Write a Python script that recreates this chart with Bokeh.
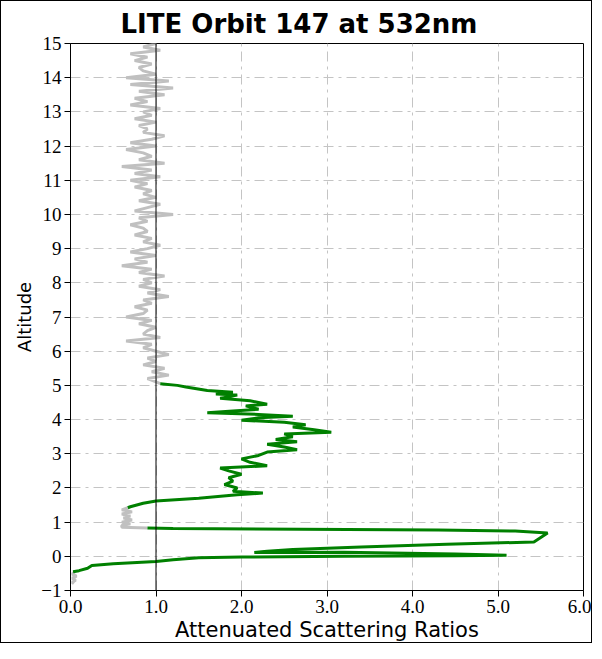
from bokeh.plotting import figure
from bokeh.models import Span, FixedTicker, Range1d
from bokeh.embed import file_html
from bokeh.resources import INLINE

title_text = "LITE Orbit 147 at 532nm"
x_label = "Attenuated Scattering Ratios"
y_label = "Altitude"
x_ticks = [0, 1, 2, 3, 4, 5, 6]
x_tick_labels = ["0.0", "1.0", "2.0", "3.0", "4.0", "5.0", "6.0"]
y_ticks = [-1, 0, 1, 2, 3, 4, 5, 6, 7, 8, 9, 10, 11, 12, 13, 14, 15]

# grey profile, upper part (altitude km, ratio)
gray_upper_alt = [15.0, 14.9, 14.8, 14.7, 14.6, 14.5, 14.4, 14.3, 14.2, 14.1,
                  14.0, 13.9, 13.8, 13.7, 13.6, 13.5, 13.4, 13.3, 13.2, 13.1,
                  13.0, 12.9, 12.8, 12.7, 12.6, 12.5, 12.4, 12.3, 12.2, 12.1,
                  12.0, 11.9, 11.8, 11.7, 11.6, 11.5, 11.4, 11.3, 11.2, 11.1,
                  11.0, 10.9, 10.8, 10.7, 10.6, 10.5, 10.4, 10.3, 10.2, 10.1,
                  10.0, 9.9, 9.8, 9.7, 9.6, 9.5, 9.4, 9.3, 9.2, 9.1,
                  9.0, 8.9, 8.8, 8.7, 8.6, 8.5, 8.4, 8.3, 8.2, 8.1,
                  8.0, 7.9, 7.8, 7.7, 7.6, 7.5, 7.4, 7.3, 7.2, 7.1,
                  7.0, 6.9, 6.8, 6.7, 6.6, 6.5, 6.4, 6.3, 6.2, 6.1,
                  6.0, 5.9, 5.8, 5.7, 5.6, 5.5, 5.4, 5.3, 5.2, 5.1, 5.05]
gray_upper_val = [1.0, 0.85, 1.05, 0.7, 0.9, 0.75, 0.95, 0.8, 0.85, 1.0,
                  0.65, 1.15, 0.7, 1.2, 0.8, 1.1, 0.75, 0.9, 0.7, 1.05,
                  0.85, 0.95, 0.75, 1.0, 0.8, 0.9, 0.85, 1.1, 0.95, 0.7,
                  1.0, 0.65, 0.85, 0.95, 0.8, 1.1, 0.6, 0.95, 0.75, 1.05,
                  0.7, 0.9, 0.75, 0.95, 0.85, 1.0, 0.8, 1.05, 0.9, 0.75,
                  1.2, 0.8, 0.9, 0.7, 0.85, 0.9, 0.75, 0.95, 0.85, 1.05,
                  0.9, 0.7, 1.0, 0.75, 0.9, 0.6, 0.95, 0.8, 1.1, 0.85,
                  0.95, 0.8, 1.05, 0.9, 1.15, 0.85, 0.95, 0.75, 0.9, 0.85,
                  0.65, 0.95, 0.8, 1.0, 0.9, 0.85, 1.05, 0.65, 0.95, 0.85,
                  1.0, 1.15, 0.9, 1.0, 0.85, 1.1, 0.95, 1.15, 0.9, 1.0, 1.05]

# grey profile, middle part
gray_mid_alt = [1.42, 1.36, 1.3, 1.24, 1.18, 1.12, 1.06, 1.0, 0.95, 0.9, 0.85, 0.83]
gray_mid_val = [0.67, 0.6, 0.72, 0.6, 0.7, 0.62, 0.72, 0.6, 0.7, 0.6, 0.6, 0.9]

# grey profile, bottom part
gray_low_alt = [-0.45, -0.52, -0.58, -0.64, -0.7, -0.76, -0.8]
gray_low_val = [0.05, 0.02, 0.07, 0.02, 0.06, 0.02, 0.04]

# green profile, aerosol layer
green_upper_alt = [5.05, 5.0, 4.95, 4.85, 4.8, 4.75, 4.72, 4.62, 4.55, 4.45,
                   4.4, 4.3, 4.25, 4.2, 4.15, 4.1, 4.05, 3.98, 3.92, 3.85,
                   3.78, 3.7, 3.63, 3.58, 3.5, 3.42, 3.35, 3.28, 3.2, 3.12,
                   3.05, 2.95, 2.85, 2.75, 2.65, 2.58, 2.5, 2.4, 2.3, 2.2,
                   2.1, 2.0, 1.9, 1.85, 1.8, 1.7, 1.62, 1.55, 1.45, 1.42]
green_upper_val = [1.05, 1.25, 1.35, 1.6, 1.9, 1.7, 1.95, 1.75, 2.1, 2.3,
                   2.05, 2.2, 1.9, 1.6, 2.2, 2.6, 2.2, 2.0, 2.5, 2.75,
                   2.6, 2.85, 3.05, 2.5, 2.6, 2.4, 2.65, 2.3, 2.5, 2.65,
                   2.3, 2.2, 2.0, 2.1, 2.3, 1.75, 1.85, 2.0, 1.85, 1.9,
                   1.8, 1.95, 1.9, 2.25, 1.95, 1.5, 1.0, 0.85, 0.7, 0.67]

# green profile, boundary layer
green_low_alt = [0.83, 0.81, 0.79, 0.77, 0.74, 0.68, 0.55, 0.42, 0.35, 0.27,
                 0.2, 0.15, 0.11, 0.12, 0.07, 0.03, 0.02, 0.0, -0.02, -0.04,
                 -0.1, -0.15, -0.22, -0.27, -0.35, -0.42, -0.45]
green_low_val = [0.9, 1.2, 2.7, 4.3, 5.2, 5.58, 5.5, 5.42, 4.4, 3.4,
                 2.6, 2.3, 2.15, 3.2, 4.5, 5.1, 4.5, 3.2, 2.0, 1.5,
                 1.2, 1.0, 0.5, 0.25, 0.2, 0.1, 0.03]

p = figure(width=592, height=643, output_backend="svg", toolbar_location=None,
           x_range=Range1d(0, 6), y_range=Range1d(-1, 15),
           min_border_left=69, min_border_right=10, min_border_top=37,
           min_border_bottom=49, title=title_text)
p.styles = {"border": "1px solid black"}

p.title.align = "left"
p.title.offset = 50
p.title.text_font = "DejaVu Sans"
p.title.text_font_size = "26px"
p.title.text_font_style = "bold"
p.title.text_color = "black"

p.outline_line_color = "black"
p.outline_line_width = 1

p.xaxis.ticker = FixedTicker(ticks=x_ticks)
p.xaxis.major_label_overrides = {t: l for t, l in zip(x_ticks, x_tick_labels)}
p.yaxis.ticker = FixedTicker(ticks=y_ticks)
for ax in (p.xaxis, p.yaxis):
    ax.axis_line_color = "black"
    ax.major_tick_line_color = "black"
    ax.major_tick_out = 6
    ax.major_tick_in = 0
    ax.minor_tick_line_color = None
    ax.major_label_text_font = "Liberation Serif"
    ax.major_label_text_font_size = "19px"
    ax.major_label_text_color = "black"
    ax.axis_label_text_font = "DejaVu Sans"
    ax.axis_label_text_font_style = "normal"
    ax.axis_label_text_color = "black"
p.xaxis.axis_label_text_font_size = "21px"
p.yaxis.axis_label_text_font_size = "18px"
p.xaxis.axis_label = x_label
p.yaxis.axis_label = y_label
p.xaxis.major_label_standoff = 3
p.yaxis.major_label_standoff = 3
p.xaxis.axis_label_standoff = 2
p.yaxis.axis_label_standoff = 3

p.xgrid.ticker = FixedTicker(ticks=x_ticks)
p.ygrid.ticker = FixedTicker(ticks=y_ticks)
p.grid.grid_line_color = "#c4c4c4"
p.grid.grid_line_dash = "10 5 3 5"
p.grid.grid_line_width = 1

p.line(gray_upper_val, gray_upper_alt, line_color="#c0c0c0", line_width=3)
p.line(gray_mid_val, gray_mid_alt, line_color="#c0c0c0", line_width=3)
p.line(gray_low_val, gray_low_alt, line_color="#c0c0c0", line_width=3)
p.line(green_upper_val, green_upper_alt, line_color="#008000", line_width=3)
p.line(green_low_val, green_low_alt, line_color="#008000", line_width=3)

p.add_layout(Span(location=1, dimension="height", line_color="black", line_width=1))

open("out.html", "w").write(file_html(p, INLINE))
